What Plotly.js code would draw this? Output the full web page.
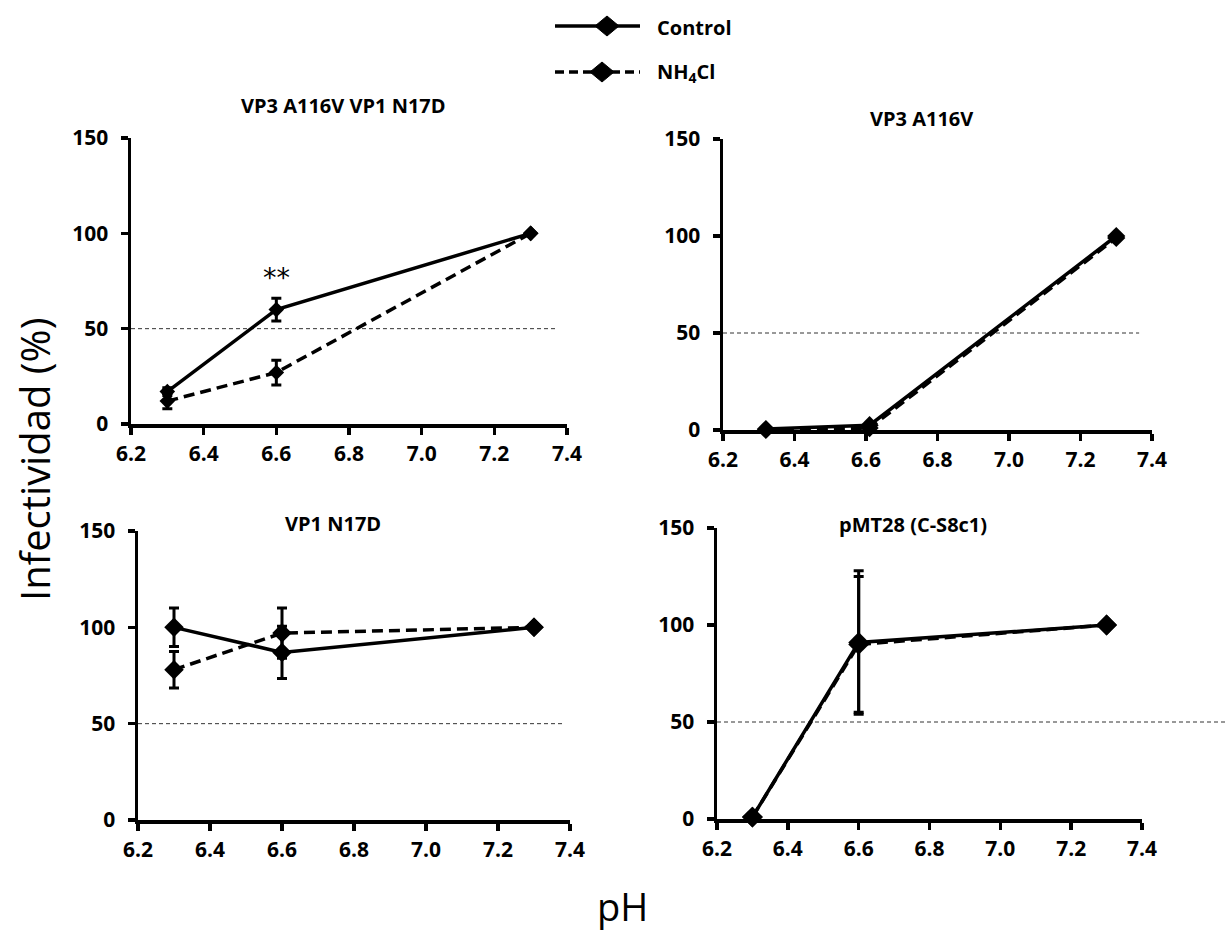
<!DOCTYPE html>
<html>
<head>
<meta charset="utf-8">
<script src="https://cdn.plot.ly/plotly-3.0.1.min.js"></script>
<style>html,body{margin:0;padding:0;background:#fff;}#chart{width:1228px;height:936px;}</style>
</head>
<body>
<div id="chart"></div>
<script>
// ---- Data ----
const panelTitles = ["VP3 A116V VP1 N17D", "VP3 A116V", "VP1 N17D", "pMT28 (C-S8c1)"];
const seriesNames = ["Control", "NH<sub>4</sub>Cl"];

const pH_p1 = [6.3, 6.6, 7.3];
const control_p1 = [17, 60, 100];
const controlErr_p1 = [2, 6, 0];
const nh4cl_p1 = [12, 27, 100];
const nh4clErr_p1 = [4, 6.5, 0];

const pH_p2 = [6.32, 6.61, 7.3];
const control_p2 = [0.5, 2.5, 100];
const controlErr_p2 = [0, 0, 0];
const nh4cl_p2 = [0, 1, 99];
const nh4clErr_p2 = [0, 0, 0];

const pH_p3 = [6.3, 6.6, 7.3];
const control_p3 = [100, 87, 100];
const controlErr_p3 = [10, 13.5, 0];
const nh4cl_p3 = [78, 97, 100];
const nh4clErr_p3 = [9.5, 13, 0];

const pH_p4 = [6.3, 6.6, 7.3];
const control_p4 = [1, 91, 100];
const controlErr_p4 = [0, 37, 0];
const nh4cl_p4 = [1, 90, 100];
const nh4clErr_p4 = [0, 35, 0];

const threshold = 50;
const xTickVals = [6.2, 6.4, 6.6, 6.8, 7.0, 7.2, 7.4];
const yTickVals = [0, 50, 100, 150];
const yTitle = "Infectividad (%)";
const xTitle = "pH";
const significance = "**";

// ---- Layout helpers ----
const W = 1228, H = 936;
const px = v => v / W;
const py = v => 1 - v / H;
const FONT = "'Open Sans', sans-serif";

const panels = [
  {x: pH_p1, c: control_p1, ce: controlErr_p1, n: nh4cl_p1, ne: nh4clErr_p1, dom: {x0:131,x1:567,y0:138,y1:424}, tx:343, ty:105, lineEnd:0.975, msize:12},
  {x: pH_p2, c: control_p2, ce: controlErr_p2, n: nh4cl_p2, ne: nh4clErr_p2, dom: {x0:723,x1:1152,y0:139,y1:430}, tx:921, ty:118, lineEnd:0.97, msize:14},
  {x: pH_p3, c: control_p3, ce: controlErr_p3, n: nh4cl_p3, ne: nh4clErr_p3, dom: {x0:138,x1:570,y0:531,y1:820}, tx:333, ty:523, lineEnd:0.985, msize:15},
  {x: pH_p4, c: control_p4, ce: controlErr_p4, n: nh4cl_p4, ne: nh4clErr_p4, dom: {x0:717,x1:1142,y0:528,y1:819}, tx:913, ty:524, lineEnd:1.2, msize:16}
];

const traces = [];
const layout = {
  width: W, height: H,
  margin: {l:0, r:0, t:0, b:0},
  paper_bgcolor: "#ffffff",
  plot_bgcolor: "rgba(0,0,0,0)",
  showlegend: false,
  font: {family: FONT, color: "#000"},
  shapes: [],
  annotations: []
};

panels.forEach((p, i) => {
  const k = i === 0 ? "" : String(i + 1);
  const xa = "x" + k, ya = "y" + k;
  traces.push({
    type: "scatter", mode: "lines+markers", name: seriesNames[0],
    x: p.x, y: p.c, xaxis: xa, yaxis: ya, cliponaxis: false,
    line: {color: "#000", width: 3.5},
    marker: {symbol: "diamond", size: p.msize, color: "#000"},
    error_y: {type: "data", array: p.ce, visible: true, color: "#000", thickness: 3, width: 5}
  });
  traces.push({
    type: "scatter", mode: "lines+markers", name: seriesNames[1],
    x: p.x, y: p.n, xaxis: xa, yaxis: ya, cliponaxis: false,
    line: {color: "#000", width: 3.5, dash: "11px,6px"},
    marker: {symbol: "diamond", size: p.msize, color: "#000"},
    error_y: {type: "data", array: p.ne, visible: true, color: "#000", thickness: 3, width: 5}
  });
  const axCommon = {
    showline: true, linewidth: 3.5, linecolor: "#000", mirror: false,
    ticks: "outside", ticklen: 7, tickwidth: 3.5, tickcolor: "#000",
    showgrid: false, zeroline: false, fixedrange: true,
    tickfont: {family: FONT, size: 21, weight: 700, color: "#000"}
  };
  layout["xaxis" + k] = Object.assign({}, axCommon, {
    domain: [px(p.dom.x0), px(p.dom.x1)],
    range: [6.2, 7.4], tickvals: xTickVals, tickformat: ".1f",
    anchor: ya, ticklabelstandoff: 1
  });
  layout["yaxis" + k] = Object.assign({}, axCommon, {
    domain: [py(p.dom.y1), py(p.dom.y0)],
    range: [0, 150], tickvals: yTickVals,
    anchor: xa, ticklabelstandoff: 8
  });
  // 50% threshold line
  layout.shapes.push({
    type: "line", xref: xa + " domain", yref: ya,
    x0: 0, x1: p.lineEnd, y0: threshold, y1: threshold,
    line: {color: "#333", width: 1, dash: "4px,3px"}, layer: "below"
  });
  // panel title
  layout.annotations.push({
    xref: "paper", yref: "paper", x: px(p.tx), y: py(p.ty),
    xanchor: "center", yanchor: "middle", showarrow: false,
    text: "<b>" + panelTitles[i] + "</b>", font: {family: FONT, size: 20, color: "#000"}
  });
});

// significance marker
layout.annotations.push({
  xref: "x", yref: "y", x: pH_p1[1], y: control_p1[1] + 17,
  xanchor: "center", yanchor: "middle", showarrow: false,
  text: significance, font: {family: "DejaVu Sans, sans-serif", size: 27, color: "#000"}
});

// axis titles
layout.annotations.push({
  xref: "paper", yref: "paper", x: px(34), y: py(460),
  xanchor: "center", yanchor: "middle", showarrow: false, textangle: -90,
  text: yTitle, font: {family: "'Open Sans', sans-serif", size: 40, color: "#000"}
});
layout.annotations.push({
  xref: "paper", yref: "paper", x: px(622), y: py(906),
  xanchor: "center", yanchor: "middle", showarrow: false,
  text: xTitle, font: {family: "'Open Sans', sans-serif", size: 38, color: "#000"}
});

// custom legend
function diamondPath(cx, cy, hw, hh) {
  return "M" + px(cx - hw) + "," + py(cy) + " L" + px(cx) + "," + py(cy - hh) +
         " L" + px(cx + hw) + "," + py(cy) + " L" + px(cx) + "," + py(cy + hh) + " Z";
}
layout.shapes.push({type: "line", xref: "paper", yref: "paper", x0: px(555), x1: px(640), y0: py(26), y1: py(26), line: {color: "#000", width: 3.5}});
layout.shapes.push({type: "path", xref: "paper", yref: "paper", path: diamondPath(607, 26, 12, 10), fillcolor: "#000", line: {color: "#000", width: 1}});
layout.shapes.push({type: "line", xref: "paper", yref: "paper", x0: px(555), x1: px(640), y0: py(72), y1: py(72), line: {color: "#000", width: 3.5, dash: "9px,5px"}});
layout.shapes.push({type: "path", xref: "paper", yref: "paper", path: diamondPath(602, 72, 12, 10), fillcolor: "#000", line: {color: "#000", width: 1}});
layout.annotations.push({
  xref: "paper", yref: "paper", x: px(655), y: py(27), xanchor: "left", yanchor: "middle", showarrow: false,
  text: "<b>" + seriesNames[0] + "</b>", font: {family: FONT, size: 20, color: "#000"}
});
layout.annotations.push({
  xref: "paper", yref: "paper", x: px(655), y: py(73), xanchor: "left", yanchor: "middle", showarrow: false,
  text: "<b>" + seriesNames[1] + "</b>", font: {family: FONT, size: 20, color: "#000"}
});

Plotly.newPlot("chart", traces, layout, {displayModeBar: false, staticPlot: true});
</script>
</body>
</html>
